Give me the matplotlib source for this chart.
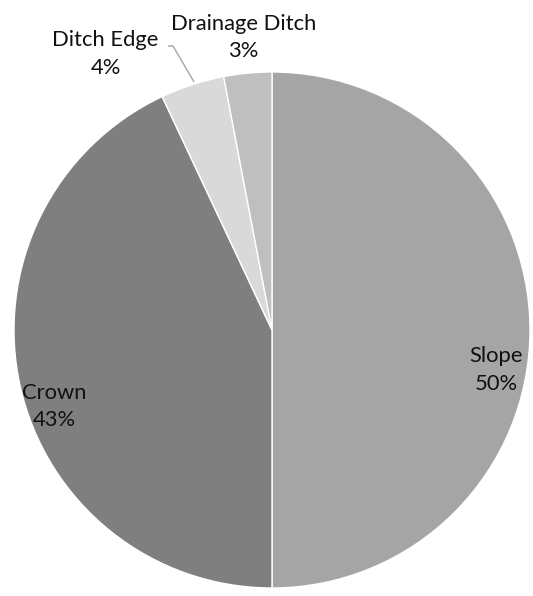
import matplotlib

matplotlib.use("Agg")
import matplotlib.pyplot as plt

# Share of failure locations along the road cross-section
LABELS = ["Slope", "Crown", "Ditch Edge", "Drainage Ditch"]
SHARES = [50, 43, 4, 3]
COLORS = ["#A5A5A5", "#7F7F7F", "#D9D9D9", "#BFBFBF"]

# label anchor points in pie units (radius = 1)
LABEL_POS = [(0.868, -0.155), (-0.845, -0.295), (-0.645, 1.07), (-0.11, 1.135)]

W, H, DPI = 533, 596, 100
CX, CY, R = 272, 330, 258  # pie centre and radius in pixels

fig = plt.figure(figsize=(W / DPI, H / DPI), dpi=DPI)
ax = fig.add_axes([0, 0, 1, 1])

ax.pie(
    SHARES,
    colors=COLORS,
    startangle=90,
    counterclock=False,
    radius=1.0,
    wedgeprops={"edgecolor": "white", "linewidth": 1.0},
)

for name, share, (x, y) in zip(LABELS, SHARES, LABEL_POS):
    ax.text(x, y, f"{name}\n{share}%", ha="center", va="center",
            fontsize=15.8, family=["Lato", "DejaVu Sans"], color="#111111",
            linespacing=1.45)

# leader line for the small Ditch Edge wedge
ax.plot([-0.403, -0.384, -0.302], [1.101, 1.101, 0.961],
        color="#A6A6A6", linewidth=1.0, solid_capstyle="butt")

ax.set_xlim(-CX / R, (W - CX) / R)
ax.set_ylim(-(H - CY) / R, CY / R)
ax.set_aspect("equal")
ax.axis("off")

fig.savefig("out.png", dpi=DPI)
